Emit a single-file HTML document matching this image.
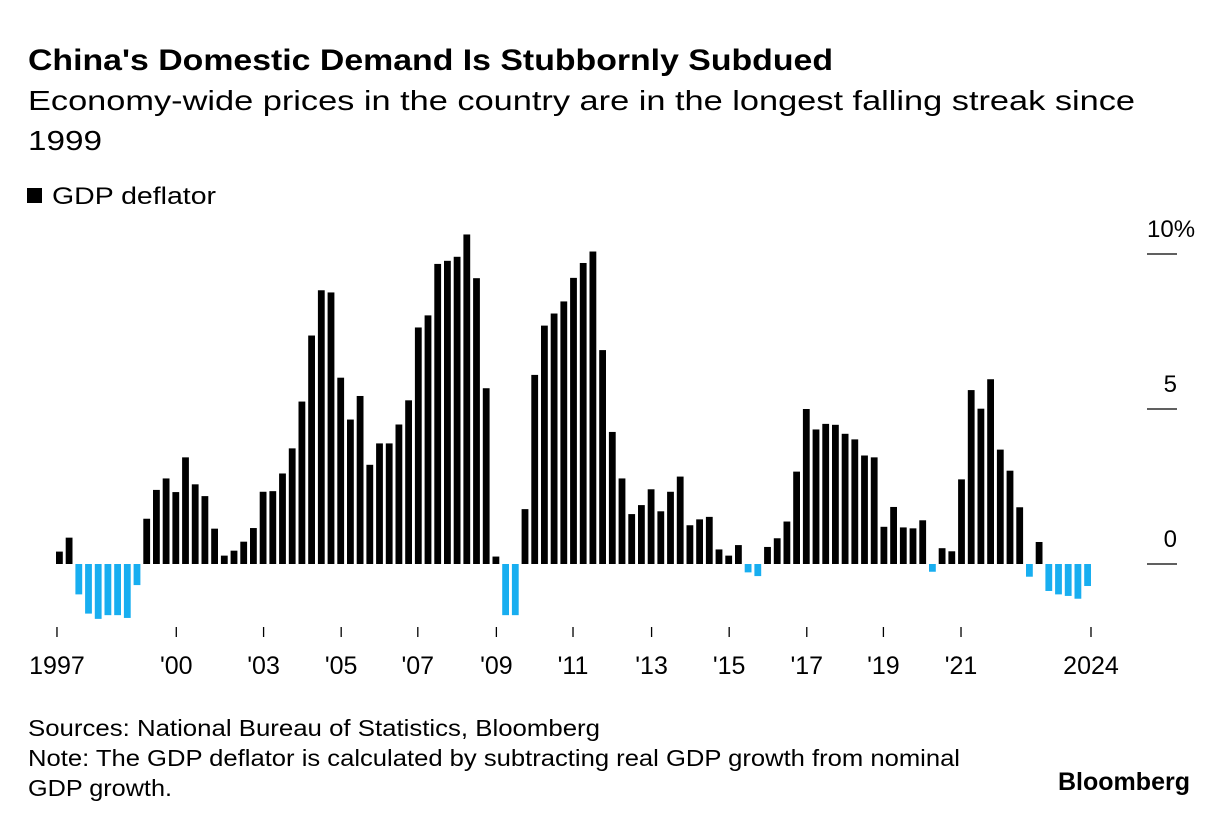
<!DOCTYPE html>
<html><head><meta charset="utf-8"><style>
html,body{margin:0;padding:0;background:#fff;}
svg{display:block;font-family:"Liberation Sans",Arial,sans-serif;}
</style></head><body>
<svg id="chart" width="1227" height="824" viewBox="0 0 1227 824">
<text x="28" y="70" font-size="30" font-weight="bold" textLength="805" lengthAdjust="spacingAndGlyphs">China's Domestic Demand Is Stubbornly Subdued</text>
<text x="28" y="110" font-size="28" textLength="1107" lengthAdjust="spacingAndGlyphs">Economy-wide prices in the country are in the longest falling streak since</text>
<text x="28" y="150" font-size="28" textLength="74" lengthAdjust="spacingAndGlyphs">1999</text>
<rect x="27" y="188" width="15" height="15" fill="#000"/>
<text x="52" y="204" font-size="24" textLength="164" lengthAdjust="spacingAndGlyphs">GDP deflator</text>
<g id="ygrid"></g>
<g id="bars"></g>
<g id="xaxis"></g>
<text x="28" y="736" font-size="23" textLength="572" lengthAdjust="spacingAndGlyphs">Sources: National Bureau of Statistics, Bloomberg</text>
<text x="28" y="766" font-size="23" textLength="932" lengthAdjust="spacingAndGlyphs">Note: The GDP deflator is calculated by subtracting real GDP growth from nominal</text>
<text x="28" y="796" font-size="23" textLength="144" lengthAdjust="spacingAndGlyphs">GDP growth.</text>
<text x="1190" y="790" font-size="25" font-weight="bold" text-anchor="end" textLength="132" lengthAdjust="spacingAndGlyphs">Bloomberg</text>
</svg>
<script>
const values = [0.4,0.85,-0.98,-1.6,-1.77,-1.65,-1.65,-1.74,-0.68,1.46,2.39,2.76,2.32,3.44,2.57,2.19,1.14,0.27,0.43,0.72,1.16,2.33,2.35,2.92,3.73,5.24,7.37,8.83,8.76,6.01,4.66,5.42,3.2,3.89,3.89,4.5,5.28,7.63,8.02,9.68,9.78,9.91,10.63,9.22,5.67,0.24,-1.65,-1.65,1.77,6.1,7.69,8.08,8.47,9.23,9.71,10.08,6.9,4.26,2.76,1.61,1.9,2.41,1.7,2.33,2.82,1.25,1.44,1.52,0.47,0.27,0.61,-0.27,-0.39,0.55,0.83,1.37,2.98,5.0,4.34,4.52,4.49,4.2,4.02,3.5,3.44,1.2,1.84,1.18,1.15,1.41,-0.25,0.51,0.41,2.73,5.61,5.01,5.96,3.69,3.01,1.83,-0.41,0.71,-0.87,-0.98,-1.03,-1.12,-0.71];
const xTickLabels = ["1997","'00","'03","'05","'07","'09","'11","'13","'15","'17","'19","'21","2024"];
const xTickIndex = [0.1,12.4,21.4,29.4,37.3,45.4,53.3,61.4,69.4,77.4,85.3,93.3,106.7];
const yTickValues = [0,5,10];
const yTickLabels = ["0","5","10%"];

const NS = "http://www.w3.org/2000/svg";
const x0 = 56, pitch = 9.7, bw = 6.8;
const zeroY = 564, pxPer = 31;
function xScale(i){ return x0 + i*pitch; }
function yScale(v){ return zeroY - v*pxPer; }

const yg = document.getElementById('ygrid');
yTickValues.forEach((v,k)=>{
  const l = document.createElementNS(NS,'line');
  l.setAttribute('x1',1147); l.setAttribute('x2',1177);
  l.setAttribute('y1',yScale(v)); l.setAttribute('y2',yScale(v));
  l.setAttribute('stroke','#000'); l.setAttribute('stroke-width','1.2');
  
  
  yg.appendChild(l);
  const t = document.createElementNS(NS,'text');
  t.setAttribute('x', v===10 ? 1147 : 1177);
  t.setAttribute('text-anchor', v===10 ? 'start' : 'end');
  t.setAttribute('y', yScale(v)-17);
  t.setAttribute('font-size','24');
  t.textContent = yTickLabels[k];
  
  
  yg.appendChild(t);
});

const bg = document.getElementById('bars');
values.forEach((v,i)=>{
  const r = document.createElementNS(NS,'rect');
  const y = v>=0 ? yScale(v) : zeroY;
  r.setAttribute('x', xScale(i)); r.setAttribute('width', bw);
  r.setAttribute('y', y); r.setAttribute('height', Math.abs(yScale(v)-zeroY));
  r.setAttribute('fill', v>=0 ? '#000' : '#18aef0');
  
  
  bg.appendChild(r);
});

const xa = document.getElementById('xaxis');
xTickLabels.forEach((lab,k)=>{
  const x = xScale(xTickIndex[k]);
  const l = document.createElementNS(NS,'line');
  l.setAttribute('x1',x); l.setAttribute('x2',x);
  l.setAttribute('y1',627); l.setAttribute('y2',637);
  l.setAttribute('stroke','#000'); l.setAttribute('stroke-width','1.3');
  
  
  xa.appendChild(l);
  const t = document.createElementNS(NS,'text');
  t.setAttribute('x',x); t.setAttribute('y',674);
  t.setAttribute('text-anchor','middle'); t.setAttribute('font-size','25');
  t.textContent = lab;
  
  
  xa.appendChild(t);
});
</script>
</body></html>
